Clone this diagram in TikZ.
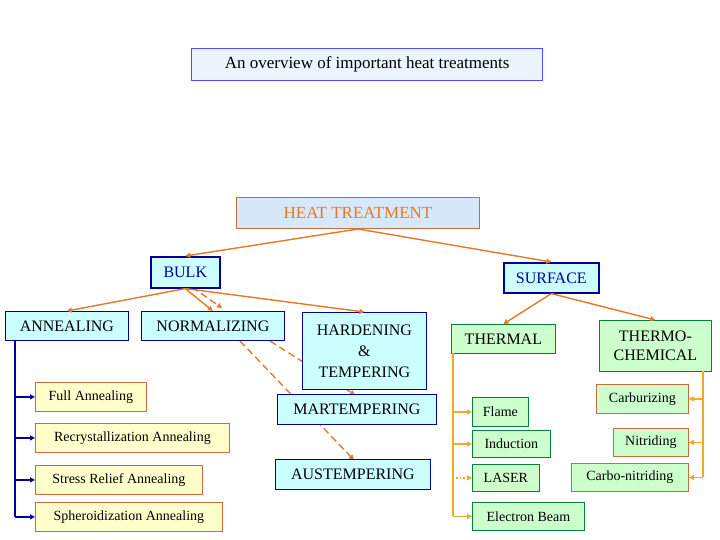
\documentclass[tikz,border=0pt]{standalone}
\usepackage{fontspec}
\setmainfont{Liberation Serif}
\usetikzlibrary{arrows.meta}
\definecolor{cy}{RGB}{204,255,255}
\definecolor{gr}{RGB}{204,255,204}
\definecolor{ye}{RGB}{255,255,204}
\definecolor{dblue}{RGB}{0,0,153}
\definecolor{org}{RGB}{230,120,40}
\definecolor{yorg}{RGB}{240,170,40}
\definecolor{dgreen}{RGB}{0,130,60}
\definecolor{brn}{RGB}{200,110,60}
\definecolor{pale}{RGB}{215,232,250}
\begin{document}
\begin{tikzpicture}[x=1pt,y=-1pt,
 bx/.style={draw,inner sep=0,anchor=north west,align=center,font=\fontsize{16}{19}\selectfont},
 bb/.style={bx,fill=cy,draw=dblue,line width=0.8pt},
 bbt/.style={bb,line width=1.6pt,text=dblue},
 gb/.style={bx,fill=gr,draw=dgreen,line width=0.8pt},
 yb/.style={bx,fill=ye,draw=brn,line width=0.8pt,font=\fontsize{14}{17}\selectfont},
 gs/.style={gb,font=\fontsize{14}{17}\selectfont},
 oa/.style={draw=org,line width=1.4pt,-{Triangle[length=5pt,width=5pt]}},
 da/.style={oa,dashed,dash pattern=on 7pt off 4pt},
 ba/.style={draw=dblue,line width=1.4pt,-{Triangle[length=5pt,width=5pt]}},
 ya/.style={draw=yorg,line width=1.4pt,-{Triangle[length=5pt,width=5pt]}}]
\useasboundingbox (0,0) rectangle (720,540);
\fill[white] (0,0) rectangle (720,540);
\newcommand{\bxn}[6]{\node[#1,minimum width=#4-#2,minimum height=#5-#3] (#6) at (#2,#3)}
\bxn{bx,draw=blue!70,line width=1.2pt,fill=pale!50,font=\fontsize{17}{20}\selectfont}{191}{48}{542}{80}{title} {An overview of important heat treatments};
\draw[da] (240,341) -- (354,460);
\draw[da] (270,341) -- (355,395);
\draw[da] (192,287) -- (222,308);
\bxn{bx,fill=pale,draw=brn,line width=1pt,text=org,font=\fontsize{17}{20}\selectfont}{236}{197}{479}{228}{ht} {HEAT TREATMENT};
\bxn{bbt}{150}{256}{219}{287}{bulk} {BULK};
\bxn{bbt}{503}{262}{598}{292}{surf} {SURFACE};
\bxn{bb}{5}{311}{128}{340}{ann} {ANNEALING};
\bxn{bb}{141}{311}{284}{340}{norm} {NORMALIZING};
\bxn{bb}{302}{312}{426}{389}{hard} {HARDENING\\[2pt]\&\\[2pt]TEMPERING};
\bxn{gb}{451}{324}{555}{353}{therm} {THERMAL};
\bxn{gb}{599}{320}{711}{371}{tc} {THERMO-\\CHEMICAL};
\bxn{yb}{35}{382}{146}{411}{fa} {Full Annealing};
\bxn{yb}{35}{423}{229}{452}{ra} {Recrystallization Annealing};
\bxn{yb}{35}{465}{202}{494}{sr} {Stress Relief Annealing};
\bxn{yb}{35}{502}{222}{531}{sa} {Spheroidization Annealing};
\bxn{bb}{277}{394}{436}{424}{mart} {MARTEMPERING};
\bxn{bb}{275}{459}{430}{489}{aust} {AUSTEMPERING};
\bxn{gs}{472}{397}{528}{426}{fl} {Flame};
\bxn{gs}{472}{430}{550}{457}{ind} {Induction};
\bxn{gs}{472}{464}{539}{491}{las} {LASER};
\bxn{gs}{472}{502}{584}{530}{eb} {Electron Beam};
\bxn{gs,draw=brn}{596}{384}{688}{413}{carb} {Carburizing};
\bxn{gs,draw=brn}{613}{428}{688}{456}{nit} {Nitriding};
\bxn{gs,draw=brn}{571}{463}{688}{491}{cn} {Carbo-nitriding};
\draw[oa] (ht.south) -- (bulk.north);
\draw[oa] (ht.south) -- (surf.north);
\draw[oa] (bulk.south) -- (ann.north);
\draw[oa] (bulk.south) -- (norm.north);
\draw[oa] (bulk.south) -- (hard.north);
\draw[oa] (surf.south) -- (therm.north);
\draw[oa] (surf.south) -- (tc.north);
\draw[dblue,line width=1.4pt] (15,340) -- (15,517);
\foreach \n in {fa,ra,sr,sa} \draw[ba] (15,0 |- \n.west) -- (\n.west);
\draw[yorg,line width=1.4pt] (453,353) -- (453,516);
\foreach \n in {fl,ind,eb} \draw[ya] (453,0 |- \n.west) -- (\n.west);
\draw[ya,dotted] (453,0 |- las.west) -- (las.west);
\draw[yorg,line width=1.4pt] (703,371) -- (703,477);
\foreach \n in {carb,nit,cn} \draw[ya] (703,0 |- \n.east) -- (\n.east);
\end{tikzpicture}
\end{document}
